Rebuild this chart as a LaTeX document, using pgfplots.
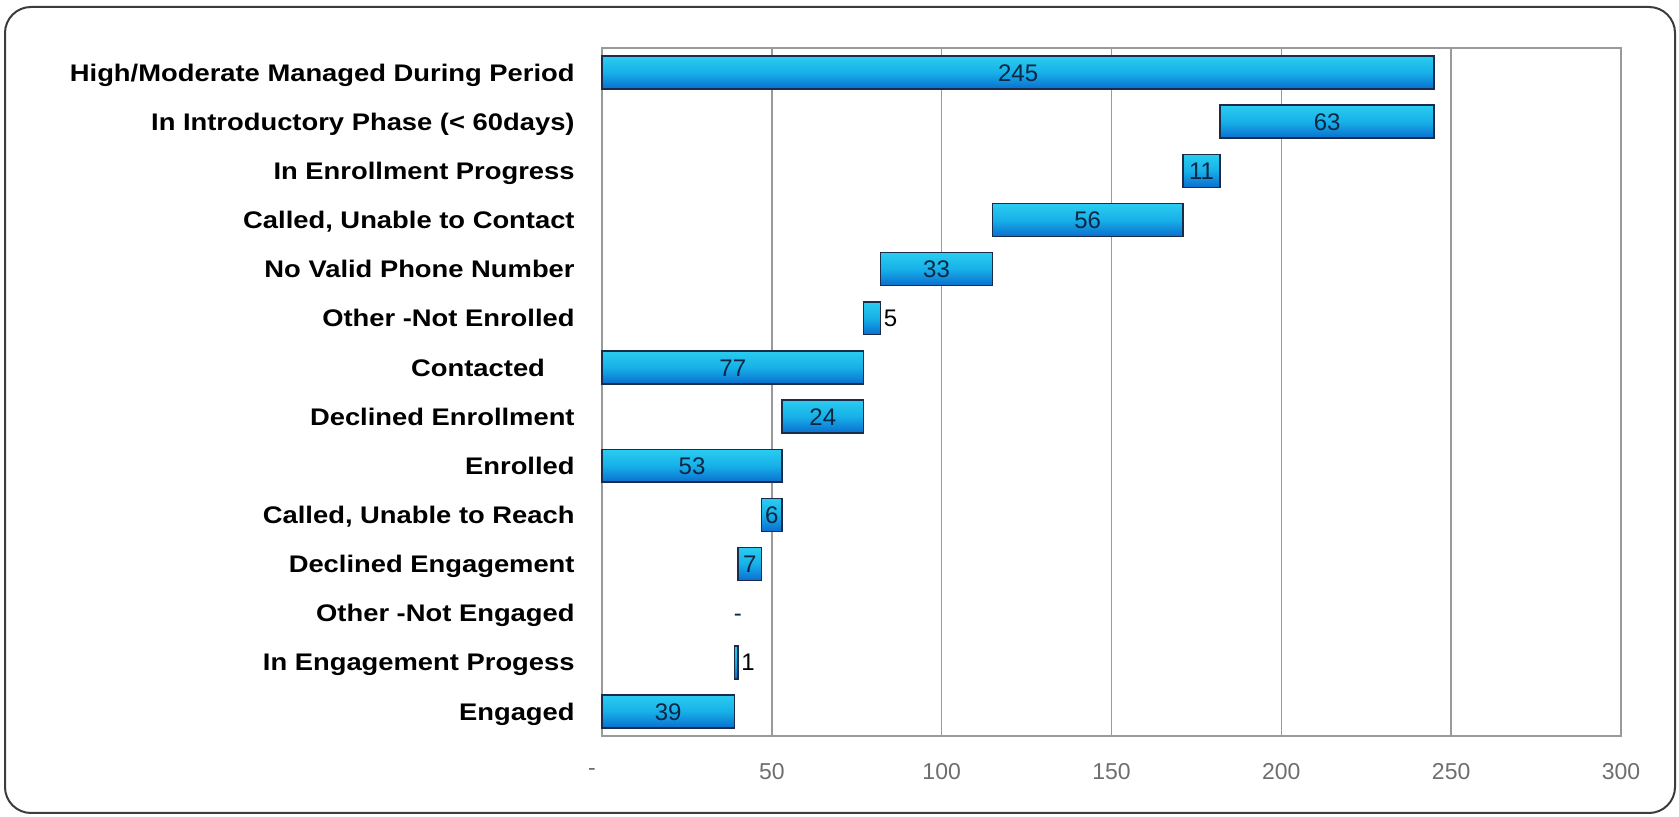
\documentclass[border=0pt]{standalone}
\usepackage{fontspec}
\setmainfont{Liberation Sans}
\usepackage{graphicx}
\usepackage{pgfplots}
\usepackage{pgfplotstable}
\pgfplotsset{compat=1.18}

\definecolor{barTop}{HTML}{2ACDF0}
\definecolor{barMid}{HTML}{17B0E8}
\definecolor{barBot}{HTML}{0A6ECF}
\definecolor{barEdge}{HTML}{1A2B4C}
\definecolor{valText}{HTML}{0E2646}
\definecolor{gridGray}{HTML}{9A9A9A}
\definecolor{tickGray}{HTML}{6E6E6E}
\definecolor{frameGray}{HTML}{3C3C3C}

% category labels: bold, slightly widened
\newcommand\cl[1]{\scalebox{1.14}[1]{\bfseries #1}}

% waterfall rows, top to bottom: start of bar, length, printed label, label placement (0 centred, 1 right of bar)
\pgfplotstableread{
idx base val lbl place
0   0   245 245 0
1   182 63  63  0
2   171 11  11  0
3   115 56  56  0
4   82  33  33  0
5   77  5   5   1
6   0   77  77  0
7   53  24  24  0
8   0   53  53  0
9   47  6   6   0
10  40  7   7   0
11  40  0   -   0
12  39  1   1   1
13  0   39  39  0
}\waterfall

\begin{document}
\begin{tikzpicture}[x=1pt,y=1pt]
\useasboundingbox (0,0) rectangle (839.5,408.5);
\draw[frameGray, line width=1pt, rounded corners=13pt] (2.5,2) rectangle (837.5,405);

\begin{axis}[
  at={(301pt,40.5pt)}, anchor=south west,
  scale only axis, width=509.5pt, height=344pt,
  xmin=0, xmax=300,
  ymin=-0.5, ymax=13.5, y dir=reverse,
  xtick={0,50,...,300},
  xticklabels={{-\rule{10pt}{0pt}},50,100,150,200,250,300},
  ytick={0,...,13},
  yticklabels={
    \cl{High/Moderate Managed During Period},
    \cl{In Introductory Phase (< 60days)},
    \cl{In Enrollment Progress},
    \cl{Called, Unable to Contact},
    \cl{No Valid Phone Number},
    \cl{Other -Not Enrolled},
    \cl{Contacted\hspace{13pt}},
    \cl{Declined Enrollment},
    \cl{Enrolled},
    \cl{Called, Unable to Reach},
    \cl{Declined Engagement},
    \cl{Other -Not Engaged},
    \cl{In Engagement Progess},
    \cl{Engaged}},
  major tick length=0pt,
  xmajorgrids, grid style={gridGray, line width=0.75pt},
  axis line style={gridGray, line width=0.75pt},
  /pgf/number format/assume math mode=true,
  xticklabel style={font=\fontsize{11.5}{13}\selectfont, text=tickGray, anchor=center, yshift=-18pt},
  yticklabel style={font=\fontsize{12}{14}\selectfont, text=black, anchor=base east, inner sep=0pt, xshift=-13.5pt, yshift=-4.3pt},
  clip=false,
]
  % floating bars: each one starts at "base" and runs "val" units to the right,
  % shaded on its own so every bar carries the full top-to-bottom gradient
  \addplot[only marks, scatter, mark=*, mark size=0pt,
    visualization depends on={\thisrow{val} \as \barlen},
    scatter/@pre marker code/.code={%
      \shadedraw[draw=barEdge, line width=0.75pt,
        top color=barTop, bottom color=barBot, middle color=barMid]
        (axis direction cs:0,-0.335) rectangle (axis direction cs:\barlen,0.335);
    },
    scatter/@post marker code/.code={},
    restrict expr to domain={\thisrow{val}}{0.5:1000}]
    table[x=base, y=idx] {\waterfall};

  % value labels centred on their bars
  \addplot[only marks, mark=none, nodes near coords,
    point meta=explicit symbolic,
    every node near coord/.append style={font=\fontsize{12}{14}\selectfont, text=valText, anchor=base, yshift=-4.3pt, inner sep=0pt},
    restrict expr to domain={\thisrow{place}}{-0.5:0.5}]
    table[x expr=\thisrow{base}+\thisrow{val}/2, y=idx, meta=lbl] {\waterfall};
  % value labels just past the end of narrow bars
  \addplot[only marks, mark=none, nodes near coords,
    point meta=explicit symbolic,
    every node near coord/.append style={font=\fontsize{12}{14}\selectfont, text=black, anchor=base west, yshift=-4.3pt, inner sep=1.5pt},
    restrict expr to domain={\thisrow{place}}{0.5:1.5}]
    table[x expr=\thisrow{base}+\thisrow{val}, y=idx, meta=lbl] {\waterfall};
\end{axis}
\end{tikzpicture}
\end{document}
